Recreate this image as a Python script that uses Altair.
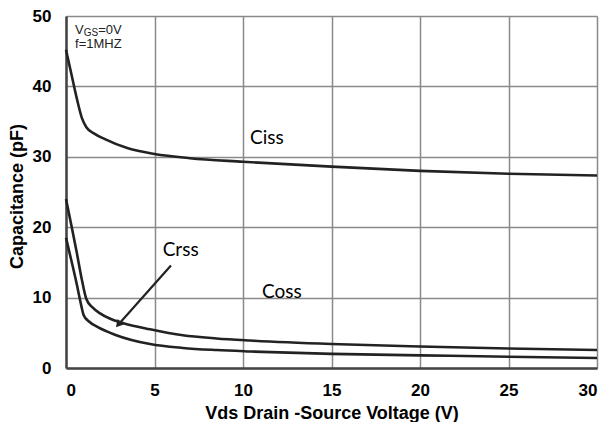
import altair as alt
import pandas as pd

# ---- data ----
ciss_v = [0, 0.3, 0.6, 0.9, 1.15, 1.6, 2.2, 3.5, 5, 7, 10, 15, 20, 25, 30]
ciss_c = [45.2, 41.8, 38.4, 35.5, 34.2, 33.3, 32.5, 31.2, 30.4, 29.8, 29.3, 28.6, 28.0, 27.6, 27.35]

coss_v = [0, 0.3, 0.6, 0.9, 1.15, 1.5, 1.9, 2.5, 3.2, 4.75, 6.6, 8.5, 10.4, 15, 20, 25, 30]
coss_c = [24.0, 20.3, 16.5, 12.5, 9.8, 8.6, 7.8, 7.0, 6.4, 5.5, 4.65, 4.2, 3.9, 3.4, 3.05, 2.78, 2.56]

crss_v = [0, 0.3, 0.6, 0.85, 1.0, 1.3, 1.8, 2.8, 4.75, 6.6, 8.5, 10.4, 15, 20, 25, 30]
crss_c = [18.5, 15.3, 12.0, 9.0, 7.5, 6.6, 5.8, 4.7, 3.4, 2.85, 2.55, 2.35, 2.0, 1.8, 1.6, 1.42]

x_ticks = [0, 5, 10, 15, 20, 25, 30]
y_ticks = [0, 10, 20, 30, 40, 50]

curve_names = ["Ciss", "Coss", "Crss"]
label_x = [11.35, 12.2, 6.48]
label_y = [32.6, 10.8, 16.7]

rows = []
for name, vs, cs in [("Ciss", ciss_v, ciss_c), ("Coss", coss_v, coss_c), ("Crss", crss_v, crss_c)]:
    for v, c in zip(vs, cs):
        rows.append({"series": name, "v": v, "c": c})
df = pd.DataFrame(rows)

labels_df = pd.DataFrame({"name": curve_names, "x": label_x, "y": label_y})

xs = alt.Scale(domain=[0, 30], nice=False, zero=False)
ys = alt.Scale(domain=[0, 50], nice=False, zero=False)

base_font = "Liberation Sans"

lines = alt.Chart(df).mark_line(
    color="#222222", strokeWidth=2.6, interpolate="monotone"
).encode(
    x=alt.X("v:Q", scale=xs,
            axis=alt.Axis(values=x_ticks, title="Vds Drain -Source Voltage (V)",
                          grid=True, gridColor="#8a8a8a", gridWidth=1.5,
                          ticks=False, domainColor="#444444", domainWidth=2.5,
                          labelFont=base_font, labelFontSize=17, labelFontWeight="bold",
                          labelColor="#000000", labelPadding=14,
                          titleFont=base_font, titleFontSize=18, titleFontWeight="bold",
                          titleColor="#000000", titleY=45, titleBaseline="middle")),
    y=alt.Y("c:Q", scale=ys,
            axis=alt.Axis(values=y_ticks, title="Capacitance  (pF)",
                          grid=True, gridColor="#8a8a8a", gridWidth=1.5,
                          ticks=False, domainColor="#444444", domainWidth=2.5,
                          labelFont=base_font, labelFontSize=17, labelFontWeight="bold",
                          labelColor="#000000", labelPadding=15,
                          titleFont=base_font, titleFontSize=18, titleFontWeight="bold",
                          titleColor="#000000", titleX=-49, titleY=180,
                          titleBaseline="middle", titleAlign="center", titleAngle=270)),
    detail="series:N",
)

curve_labels = alt.Chart(labels_df).mark_text(
    font="Lato", fontSize=19, color="#000000", align="center", baseline="middle"
).encode(x=alt.X("x:Q", scale=xs), y=alt.Y("y:Q", scale=ys), text="name:N")

# arrow pointing at Crss
arrow_df = pd.DataFrame({"x": [5.93], "y": [14.56], "x2": [3.0], "y2": [6.3]})
arrow_line = alt.Chart(arrow_df).mark_rule(color="#222222", strokeWidth=2.2).encode(
    x=alt.X("x:Q", scale=xs), y=alt.Y("y:Q", scale=ys), x2="x2:Q", y2="y2:Q"
)
arrow_head = alt.Chart(arrow_df).mark_point(
    shape="triangle", filled=True, color="#222222", size=70, angle=221, opacity=1
).encode(x=alt.X("x2:Q", scale=xs), y=alt.Y("y2:Q", scale=ys))

# condition annotation
cond_df = pd.DataFrame({
    "t": ["V", "GS", "=0V", "f=1MHZ"],
    "x": [0.51, 1.0, 1.82, 0.51],
    "y": [47.45, 47.2, 47.45, 45.4],
    "s": [13, 10, 13, 13],
})
cond = alt.Chart(cond_df).mark_text(
    font=base_font, color="#222222", align="left", baseline="alphabetic"
).encode(
    x=alt.X("x:Q", scale=xs), y=alt.Y("y:Q", scale=ys), text="t:N",
    size=alt.Size("s:Q", scale=None, legend=None),
)

chart = alt.layer(lines, curve_labels, arrow_line, arrow_head, cond).properties(
    width=531, height=352,
    autosize=alt.AutoSizeParams(type="none"),
    padding={"left": 58, "top": 8, "right": 4, "bottom": 54},
).configure_view(stroke="#555555", strokeWidth=2).configure(background="white")

chart.save("out.html", embed_options={"renderer": "svg", "actions": False})
